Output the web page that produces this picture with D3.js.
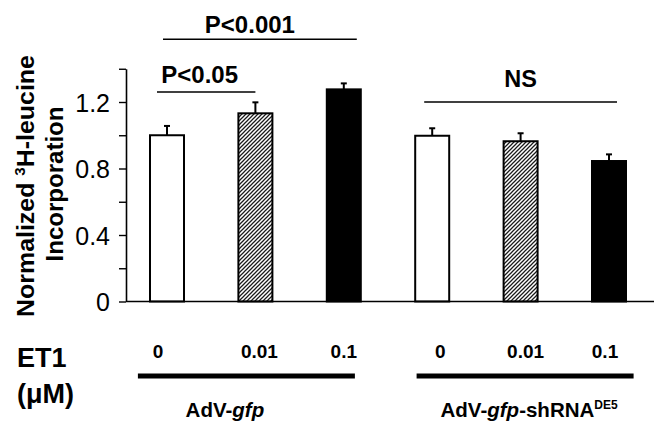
<!DOCTYPE html>
<html>
<head>
<meta charset="utf-8">
<script src="https://cdn.jsdelivr.net/npm/d3@7"></script>
<style>
  html, body { margin: 0; padding: 0; background: #fff; }
  svg { display: block; font-family: "Liberation Sans", Arial, Helvetica, sans-serif; }
</style>
</head>
<body>
<script>
// ---- data ----
const doses = ["0", "0.01", "0.1", "0", "0.01", "0.1"];
const groupOf = [0, 0, 0, 1, 1, 1];
const means = [1.0, 1.132, 1.276, 0.997, 0.964, 0.845];
const errs = [0.056, 0.066, 0.036, 0.045, 0.048, 0.04];
const fillKind = ["open", "hatch", "solid", "open", "hatch", "solid"];
const yTicks = [0, 0.2, 0.4, 0.6, 0.8, 1.0, 1.2, 1.4];
const yTickLabels = ["0", "", "0.4", "", "0.8", "", "1.2", ""];
const sigLabels = ["P<0.05", "P<0.001", "NS"];
const sigFrom = [0, 0, 3];
const sigTo = [1, 2, 5];
const sigLevel = [1.26, 1.577, 1.2];

// ---- layout (pixels) ----
const W = 665, H = 431;
const layout = {
  xFirst: 167, xLast: 609, axisLeft: 126, axisRight: 654,
  y0: 301.5, yTop: 68.75, barW: 34,
  sigNudge: [[-10, 0], [-4, 13], [-8, 8]],
  sigTextNudge: [-6.5, -10, 0],
  sigTextGap: [8.7, 6.6, 14.7],
  doseNudge: [-9, 4, 0, 8, 5, -4],
  groupLineNudge: [-9, 4.5],
  groupTextNudge: [-30.5, 8.5]
};

const svg = d3.select("body").append("svg").attr("width", W).attr("height", H);
svg.append("rect").attr("width", W).attr("height", H).attr("fill", "#fff");

const defs = svg.append("defs");
const P = 4;
const pat = defs.append("pattern").attr("id", "hatch")
  .attr("patternUnits", "userSpaceOnUse").attr("width", P).attr("height", P);
pat.append("rect").attr("width", P).attr("height", P).attr("fill", "#fff");
pat.append("path").attr("d", `M0,${P} L${P},0 M-1,1 L1,-1 M${P - 1},${P + 1} L${P + 1},${P - 1}`)
  .attr("stroke", "#1a1a1a").attr("stroke-width", 1.25);

const x = d3.scalePoint().domain(d3.range(doses.length)).range([layout.xFirst, layout.xLast]);
const y = d3.scaleLinear().domain([0, 1.4]).range([layout.y0, layout.yTop]);

// y axis
const yAxis = d3.axisLeft(y).tickValues(yTicks).tickSize(7).tickSizeOuter(0).tickPadding(9)
  .tickFormat((d, i) => yTickLabels[i]);
const gy = svg.append("g").attr("transform", `translate(${layout.axisLeft},0)`).call(yAxis);
gy.select(".domain").attr("stroke", "#000").attr("stroke-width", 1.6);
gy.selectAll(".tick line").attr("stroke", "#000").attr("stroke-width", 1.4);
gy.selectAll(".tick text").attr("font-size", 25).attr("font-family", '"Liberation Sans", Arial, sans-serif')
  .attr("fill", "#000").attr("dy", "0.36em");

// bars
const fillFor = k => k === "open" ? "#fff" : k === "hatch" ? "url(#hatch)" : "#000";
svg.append("g").selectAll("rect").data(means).join("rect")
  .attr("x", (d, i) => x(i) - layout.barW / 2)
  .attr("y", d => y(d))
  .attr("width", layout.barW)
  .attr("height", d => y(0) - y(d))
  .attr("fill", (d, i) => fillFor(fillKind[i]))
  .attr("stroke", "#000").attr("stroke-width", 2);

// error bars
const eb = svg.append("g").attr("stroke", "#000").attr("stroke-width", 2);
means.forEach((m, i) => {
  eb.append("line").attr("x1", x(i)).attr("x2", x(i)).attr("y1", y(m)).attr("y2", y(m + errs[i]));
  eb.append("line").attr("x1", x(i) - 3).attr("x2", x(i) + 3).attr("y1", y(m + errs[i])).attr("y2", y(m + errs[i]));
});

// x axis baseline
svg.append("line").attr("x1", layout.axisLeft).attr("x2", layout.axisRight)
  .attr("y1", y(0)).attr("y2", y(0)).attr("stroke", "#000").attr("stroke-width", 1.6);

// significance brackets
sigLabels.forEach((lab, k) => {
  const x1 = x(sigFrom[k]) + layout.sigNudge[k][0];
  const x2 = x(sigTo[k]) + layout.sigNudge[k][1];
  const yy = y(sigLevel[k]);
  svg.append("line").attr("x1", x1).attr("x2", x2).attr("y1", yy).attr("y2", yy)
    .attr("stroke", "#000").attr("stroke-width", 1.5);
  svg.append("text").attr("x", (x1 + x2) / 2 + layout.sigTextNudge[k]).attr("y", yy - layout.sigTextGap[k])
    .attr("text-anchor", "middle").attr("font-size", k === 2 ? 23.5 : 24).attr("font-weight", "bold")
    .text(lab);
});

// y title (two lines, rotated)
function titleLine(cx, cy, target, build) {
  const g = svg.append("g").attr("transform", `translate(${cx},${cy}) rotate(-90)`);
  const t = g.append("text").attr("text-anchor", "middle").attr("font-size", 23).attr("font-weight", "bold");
  build(t);
  const len = t.node().getComputedTextLength();
  t.attr("transform", `scale(${target / len},1)`);
}
titleLine(33.5, 186, 262, t => {
  t.append("tspan").text("Normalized ");
  t.append("tspan").attr("font-size", 14).attr("dy", -9).text("3");
  t.append("tspan").attr("dy", 9).text("H-leucine");
});
titleLine(63, 184, 155, t => t.text("Incorporation"));

// bottom: dose labels
svg.append("g").selectAll("text").data(doses).join("text")
  .attr("x", (d, i) => x(i) + layout.doseNudge[i])
  .attr("y", 358).attr("text-anchor", "middle")
  .attr("font-size", 19).attr("font-weight", "bold").text(d => d);

svg.append("text").attr("x", 17).attr("y", 366.7).attr("font-size", 27).attr("font-weight", "bold").text("ET1");
svg.append("text").attr("x", 17).attr("y", 402.7).attr("font-size", 27).attr("font-weight", "bold").text("(\u03BCM)");

// group lines and labels
[0, 1].forEach(gi => {
  const idx = d3.range(doses.length).filter(i => groupOf[i] === gi);
  const c = (x(idx[0]) + x(idx[idx.length - 1])) / 2;
  const lc = c + layout.groupLineNudge[gi];
  svg.append("line").attr("x1", lc - 108.5).attr("x2", lc + 108.5).attr("y1", 376).attr("y2", 376)
    .attr("stroke", "#000").attr("stroke-width", 5);
  const t = svg.append("text").attr("x", c + layout.groupTextNudge[gi]).attr("y", 417)
    .attr("text-anchor", "middle").attr("font-size", 20.5).attr("font-weight", "bold");
  t.append("tspan").text("AdV-");
  t.append("tspan").attr("font-style", "italic").text("gfp");
  if (gi === 1) {
    t.append("tspan").text("-shRNA");
    t.append("tspan").attr("font-size", 12).attr("dy", -8).text("DE5");
  }
});
</script>
</body>
</html>
